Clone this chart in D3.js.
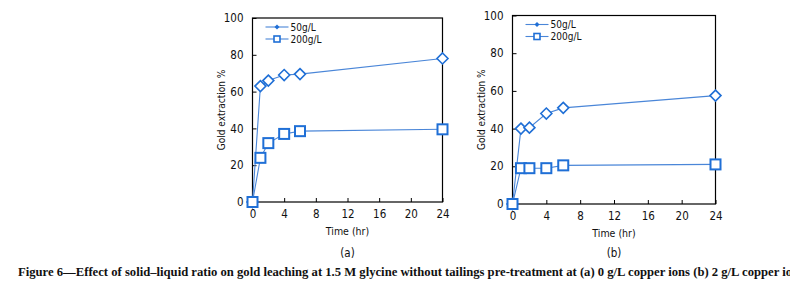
<!DOCTYPE html>
<html>
<head>
<meta charset="utf-8">
<script src="https://cdn.jsdelivr.net/npm/d3@7"></script>
<style>
  body { margin: 0; background: #fff; }
  svg { display: block; }
  .tick text { font-family: "Liberation Sans Narrow", "DejaVu Sans Condensed", sans-serif; }
</style>
</head>
<body>
<svg id="fig" width="790" height="283"></svg>
<script>
// time points (hr)
const hours = [0, 1, 2, 4, 6, 24];
// (a) 0 g/L copper ions
const a50 = [0, 63, 66, 69, 69.5, 78];
const a200 = [0, 24, 32, 37, 38.5, 39.5];
// (b) 2 g/L copper ions
const b50 = [0, 40, 40.5, 48, 51, 57.5];
const b200 = [0, 19, 19, 19, 20.5, 21];

const xTicks = [0, 4, 8, 12, 16, 20, 24];
const yTicks = [0, 20, 40, 60, 80, 100];
const seriesNames = ["50g/L", "200g/L"];
const caption = "Figure 6\u2014Effect of solid\u2013liquid ratio on gold leaching at 1.5 M glycine without tailings pre-treatment at (a) 0 g/L copper ions (b) 2 g/L copper ions";

const lineColor = "#4a86d8";
const markColor = "#1f6fd6";
const font = "'Liberation Sans Narrow', 'DejaVu Sans Condensed', sans-serif";

const svg = d3.select("#fig");

function panel(box, s50, s200, tag) {
  const x = d3.scaleLinear().domain([0, 24]).range([box.x0, box.x1]);
  const y = d3.scaleLinear().domain([0, 100]).range([box.y0, box.y1]);
  const g = svg.append("g");

  // frame
  g.append("rect")
    .attr("x", box.x0).attr("y", box.y1)
    .attr("width", box.x1 - box.x0).attr("height", box.y0 - box.y1)
    .attr("fill", "none").attr("stroke", "#000").attr("stroke-width", 1.2);

  // axes with inward ticks
  const xa = g.append("g")
    .attr("transform", `translate(0,${box.y0})`)
    .call(d3.axisBottom(x).tickValues(xTicks).tickSize(-4).tickPadding(8).tickSizeOuter(0));
  const ya = g.append("g")
    .attr("transform", `translate(${box.x0},0)`)
    .call(d3.axisLeft(y).tickValues(yTicks).tickSize(-4).tickPadding(9).tickSizeOuter(0));
  [xa, ya].forEach(ax => {
    ax.select(".domain").remove();
    ax.selectAll(".tick line").attr("stroke", "#000").attr("stroke-width", 1);
    ax.selectAll(".tick text").attr("font-size", 11.5).attr("fill", "#111");
  });

  const line = d3.line().x((d, i) => x(hours[i])).y(d => y(d));

  // 50 g/L — open diamonds
  g.append("path").datum(s50).attr("d", line)
    .attr("fill", "none").attr("stroke", lineColor).attr("stroke-width", 1.1);
  g.selectAll(".dia").data(s50).enter().append("path")
    .attr("transform", (d, i) => `translate(${x(hours[i])},${y(d)})`)
    .attr("d", "M0,-5.5L5.5,0L0,5.5L-5.5,0Z")
    .attr("fill", "#fff").attr("stroke", markColor).attr("stroke-width", 1.6);

  // 200 g/L — open squares
  g.append("path").datum(s200).attr("d", line)
    .attr("fill", "none").attr("stroke", lineColor).attr("stroke-width", 1.1);
  g.selectAll(".sq").data(s200).enter().append("rect")
    .attr("x", (d, i) => x(hours[i]) - 5).attr("y", d => y(d) - 5)
    .attr("width", 10).attr("height", 10)
    .attr("fill", "#fff").attr("stroke", markColor).attr("stroke-width", 2);

  // legend
  const lx = box.x0 + 13, ly = box.y1 + 9;
  seriesNames.forEach((name, k) => {
    const yy = ly + k * 12;
    g.append("line").attr("x1", lx).attr("x2", lx + 23).attr("y1", yy).attr("y2", yy)
      .attr("stroke", lineColor).attr("stroke-width", 1.1);
    if (k === 0) {
      g.append("path").attr("transform", `translate(${lx + 11.5},${yy})`)
        .attr("d", "M0,-2.5L2.5,0L0,2.5L-2.5,0Z").attr("fill", markColor);
    } else {
      g.append("rect").attr("x", lx + 8.5).attr("y", yy - 3).attr("width", 6).attr("height", 6)
        .attr("fill", "#fff").attr("stroke", markColor).attr("stroke-width", 1.6);
    }
    g.append("text").attr("x", lx + 25).attr("y", yy + 3.5)
      .attr("font-family", font).attr("font-size", 10).attr("fill", "#111").text(name);
  });

  // axis titles
  const cx = (box.x0 + box.x1) / 2;
  g.append("text").attr("x", cx).attr("y", box.y0 + 33)
    .attr("text-anchor", "middle").attr("font-family", font).attr("font-size", 10.5)
    .attr("fill", "#111").text("Time (hr)");
  g.append("text")
    .attr("transform", `translate(${box.x0 - 28},${(box.y0 + box.y1) / 2}) rotate(-90)`)
    .attr("text-anchor", "middle").attr("font-family", font).attr("font-size", 10)
    .attr("fill", "#111").text("Gold extraction %");
  g.append("text").attr("x", cx).attr("y", 257)
    .attr("text-anchor", "middle").attr("font-family", font).attr("font-size", 11.5)
    .attr("fill", "#111").text(tag);
}

panel({x0: 252.5, x1: 442.5, y0: 202, y1: 18}, a50, a200, "(a)");
panel({x0: 512.5, x1: 715.5, y0: 204, y1: 15.5}, b50, b200, "(b)");

// caption (runs off the right edge, as in the source)
svg.append("text")
  .attr("x", 18).attr("y", 276)
  .attr("font-family", "'Liberation Serif', serif").attr("font-weight", "bold")
  .attr("font-size", 11.5).attr("fill", "#111")
  .attr("textLength", 786).attr("lengthAdjust", "spacingAndGlyphs")
  .text(caption);
</script>
</body>
</html>
